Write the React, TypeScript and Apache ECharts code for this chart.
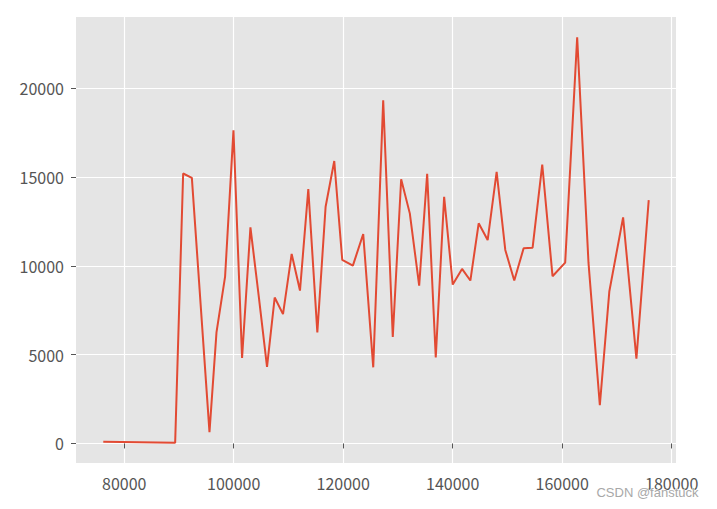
import React, { useEffect, useRef } from "react";
import * as echarts from "echarts";

const xValues = [
  76170, 89300, 90760, 92350, 95570, 96850, 98420, 99950, 101520, 103050,
  104560, 106080, 107480, 109000, 110580, 112100, 113620, 115270, 116780, 118360,
  119820, 121760, 123650, 125480, 127300, 129050, 130580, 132160, 133870, 135330,
  136900, 138430, 140000, 141700, 143220, 144740, 146380, 148020, 149600, 151240,
  152950, 154590, 156350, 158230, 160540, 162730, 164800, 166870, 168600, 171120,
  173550, 175800,
];
const yValues = [
  95, 40, 15195, 14950, 635, 6250, 9390, 17625, 4810, 12165,
  8300, 4305, 8213, 7280, 10665, 8605, 14314, 6250, 13320, 15900,
  10330, 10010, 11788, 4285, 19310, 5990, 14875, 12950, 8886, 15175,
  4845, 13880, 8943, 9823, 9170, 12390, 11450, 15290, 10890, 9170,
  10985, 11020, 15700, 9413, 10180, 22863, 10160, 2150, 8550, 12725,
  4770, 13697,
];
const xTicks = [80000, 100000, 120000, 140000, 160000, 180000];
const yTicks = [0, 5000, 10000, 15000, 20000];
const watermark = "CSDN @fanstuck";

function padExtent(vals: number[]): [number, number] {
  const lo = Math.min(...vals);
  const hi = Math.max(...vals);
  const m = (hi - lo) * 0.05;
  return [lo - m, hi + m];
}

export default function App() {
  const ref = useRef<HTMLDivElement>(null);
  useEffect(() => {
    document.body.style.margin = "0";
    const chart = echarts.init(ref.current!, null, { renderer: "svg" });
    const [xMin, xMax] = padExtent(xValues);
    const [yMin, yMax] = padExtent(yValues);
    const labelStyle = {
      color: "#555555",
      fontFamily: "'Noto Sans CJK SC', 'Noto Sans', sans-serif",
      fontSize: 16,
    };
    chart.setOption({
      animation: false,
      backgroundColor: "#ffffff",
      grid: {
        left: 76,
        right: 41,
        top: 17,
        bottom: 46,
        show: true,
        backgroundColor: "#E5E5E5",
        borderWidth: 0,
      },
      xAxis: {
        type: "value",
        min: xMin,
        max: xMax,
        axisLine: { show: false },
        axisTick: {
          show: true,
          length: 5,
          customValues: xTicks,
          lineStyle: { color: "#555555", width: 1 },
        },
        axisLabel: {
          ...labelStyle,
          margin: 12,
          customValues: xTicks,
          formatter: (v: number) => String(v),
        },
        splitLine: { show: true, lineStyle: { color: "#ffffff", width: 1.2 } },
      },
      yAxis: {
        type: "value",
        min: yMin,
        max: yMax,
        axisLine: { show: false },
        axisTick: {
          show: true,
          length: 5,
          customValues: yTicks,
          lineStyle: { color: "#555555", width: 1 },
        },
        axisLabel: {
          ...labelStyle,
          margin: 12,
          customValues: yTicks,
          formatter: (v: number) => String(v),
        },
        splitLine: { show: true, lineStyle: { color: "#ffffff", width: 1.2 } },
      },
      series: [
        {
          type: "line",
          data: xValues.map((x, i) => [x, yValues[i]]),
          showSymbol: false,
          symbol: "none",
          lineStyle: { color: "#E24A33", width: 2 },
          itemStyle: { color: "#E24A33" },
        },
      ],
      graphic: [
        {
          type: "text",
          right: 18,
          bottom: 10,
          style: {
            text: watermark,
            fill: "#a8a8a8",
            stroke: "#ffffff",
            lineWidth: 1,
            font: "13px 'Liberation Sans', Arial, sans-serif",
          },
          z: 100,
        },
      ],
    });
    return () => chart.dispose();
  }, []);
  return <div ref={ref} style={{ width: 717, height: 509 }} />;
}
